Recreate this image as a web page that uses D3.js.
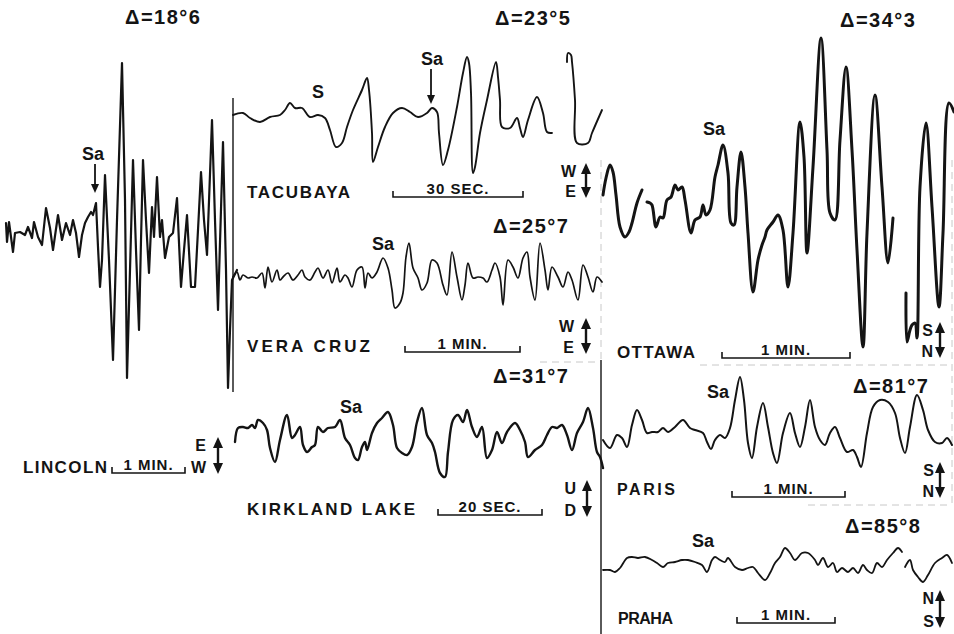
<!DOCTYPE html>
<html><head><meta charset="utf-8">
<script src="https://cdn.jsdelivr.net/npm/d3@7"></script>
<style>html,body{margin:0;padding:0;background:#fff;} svg{display:block;}</style>
</head><body>
<svg id="c" width="954" height="634"></svg>
<script>
// ---- DATA: [time offset, amplitude] pairs ----
const lincoln = [[0,9],[1,-10],[3,10],[7,-20],[9,-1],[14,0],[19,-3],[22,5],[26,-6],[28,10],[32,-5],[36,-13],[40,24],[44,4],[47,-18],[52,17],[56,-8],[60,9],[64,-3],[67,12],[70,-1],[73,-25],[76,-3],[79,9],[82,15],[85,20],[87,17],[90,29],[92,-15],[94,-55],[96,-28],[99,57],[103,-28],[107,-128],[111,12],[116,169],[119,32],[121,-146],[124,-38],[127,72],[130,-18],[133,-98],[135,-8],[137,72],[140,12],[143,-41],[146,25],[148,-5],[151,55],[154,-5],[156,12],[159,-26],[163,-5],[167,-1],[171,34],[175,-55],[178,-18],[181,17],[185,-55],[189,-55],[192,2],[195,60],[198,12],[201,-23],[206,112],[209,12],[212,-78],[217,90],[220,-38],[222,-156],[224,-98],[226,-48],[231,-38]];
const tacubaya1 = [[0,0],[10,2],[17,-3],[27,-7],[37,-2],[47,0],[52,5],[57,12],[62,7],[69,7],[77,-2],[85,0],[92,-3],[97,-15],[103,-32],[109,-28],[114,-12],[120,5],[129,25],[134,37],[136,25],[139,-18],[140,-47],[145,-32],[152,-12],[160,2],[169,7],[177,3],[185,-2],[194,2],[199,7],[204,3],[206,-18],[210,-50],[215,-35],[224,8],[230,42],[234,58],[236,52],[238,22],[240,-58],[242,-52],[247,-18],[254,15],[263,53],[265,38],[267,15],[269,-12],[277,-13],[284,-3],[287,-13],[290,-22],[295,-5],[304,18],[310,2],[314,-17],[319,-18]];
const tacubaya2 = [[334,53],[335,62],[338,60],[339,53],[342,15],[344,-28],[355,-28],[359,-18],[369,5]];
const veraCruz = [[0,0],[4,5],[7,-3],[10,2],[15,-1],[19,0],[24,-1],[29,4],[32,-11],[35,10],[39,-5],[44,7],[47,-3],[50,0],[55,4],[60,-3],[65,2],[69,7],[72,0],[77,-3],[82,5],[85,9],[90,-1],[95,7],[99,-6],[104,9],[107,-5],[112,2],[115,-1],[119,-10],[124,7],[129,10],[132,-11],[135,4],[139,-1],[144,5],[150,19],[155,9],[159,-13],[162,-31],[167,-26],[170,-16],[173,20],[176,34],[180,9],[185,-1],[189,-13],[194,-6],[199,17],[204,14],[210,-8],[214,-18],[219,25],[224,0],[229,-23],[232,-8],[235,14],[240,-1],[245,0],[250,-1],[254,-5],[259,7],[262,14],[267,0],[270,-28],[275,17],[280,10],[285,-1],[290,19],[294,25],[297,0],[302,-23],[307,34],[312,7],[315,-13],[319,10],[325,0],[330,-10],[335,5],[339,-3],[345,-23],[350,12],[355,0],[360,-15],[364,0],[369,-5]];
const kirkland = [[0,-5],[3,9],[8,10],[13,9],[17,12],[20,9],[23,17],[28,14],[32,7],[35,-11],[40,-25],[45,-3],[52,22],[57,-1],[60,2],[65,10],[68,-8],[72,-15],[77,-10],[80,-8],[83,10],[88,5],[93,9],[100,10],[105,17],[110,-1],[115,-8],[120,-21],[123,-23],[127,-10],[130,-5],[132,-13],[137,4],[142,14],[147,19],[153,25],[158,12],[162,-11],[167,-16],[172,-18],[177,-10],[182,15],[187,29],[192,2],[197,-6],[200,-15],[205,-36],[210,-40],[213,-15],[218,17],[223,22],[228,15],[232,27],[237,10],[242,0],[247,10],[252,-21],[257,-13],[262,5],[267,-6],[272,5],[280,14],[285,7],[290,-5],[293,-20],[300,-13],[307,-8],[312,2],[317,10],[322,9],[327,12],[332,2],[337,-13],[342,4],[348,15],[353,29],[358,9],[362,-15],[365,-20],[368,-31]];
const ottawa1 = [[0,15],[3,32],[7,45],[10,38],[13,15],[17,-17],[22,-27],[26,-22],[29,-13],[34,7],[39,20]];
const ottawa2 = [[44,8],[47,7],[49,5],[53,-17],[57,-7],[60,-8],[64,10],[68,13],[72,25],[75,20],[79,23],[82,10],[88,-23],[92,-10],[97,-7],[100,5],[103,-5],[107,0],[112,33],[115,45],[120,65],[125,37],[128,-13],[131,-15],[134,23],[138,58],[142,23],[145,-23],[150,-82],[155,-50],[159,-35],[162,-27],[164,-20],[170,-12],[175,-5],[180,-20],[185,-77],[190,-23],[197,88],[201,53],[204,-43],[210,43],[218,172],[224,60],[227,-3],[232,-10],[237,70],[243,143],[249,60],[254,-40],[260,-137],[264,-23],[272,115],[279,23],[285,-53],[290,-8]];
const ottawa3 = [[303,-83],[304,-132],[307,-120],[309,-115],[312,-113],[314,-128],[317,23],[323,87],[329,3],[336,-97],[340,-23],[346,107],[351,98]];
const paris = [[0,-5],[7,-13],[14,0],[19,-3],[24,-12],[29,10],[34,25],[39,15],[44,2],[49,3],[55,3],[60,7],[65,3],[72,8],[80,15],[87,7],[92,5],[100,2],[104,-7],[108,-14],[112,-5],[117,0],[122,-3],[127,7],[132,35],[137,58],[141,35],[145,-8],[149,-23],[154,8],[160,32],[165,8],[170,-18],[174,-28],[180,2],[187,22],[192,2],[197,-12],[202,8],[207,35],[212,8],[217,-5],[222,-10],[227,2],[232,8],[237,-3],[244,-17],[250,-15],[254,-22],[258,-32],[264,2],[270,28],[277,35],[285,33],[292,22],[297,-3],[302,-18],[307,8],[314,40],[320,25],[325,5],[332,-7],[339,-8],[344,-3],[349,-10]];
const praha1 = [[0,-5],[7,-5],[12,-7],[17,-3],[24,7],[29,8],[35,7],[42,8],[49,5],[54,2],[60,-2],[65,2],[72,3],[79,5],[85,5],[92,3],[99,0],[104,-7],[109,5],[112,8],[117,5],[122,3],[125,7],[132,-2],[139,-5],[145,-3],[150,-2],[155,-8],[162,-15],[167,-8],[172,2],[177,8],[182,17],[187,12],[192,5],[199,12],[205,12],[212,5],[215,0],[220,7],[225,-2],[230,2],[234,-7],[239,-3],[245,-7],[250,-3],[255,-8],[260,0],[264,-5],[269,-8],[274,2],[279,-2],[284,5],[290,12],[295,17],[299,13]];
const praha2 = [[302,-2],[307,5],[310,-5],[315,-12],[320,-17],[325,-10],[332,2],[339,7],[344,10],[349,2]];

const stations = ["LINCOLN","TACUBAYA","VERA CRUZ","KIRKLAND LAKE","OTTAWA","PARIS","PRAHA"];
const distances = ["18°6","23°5","25°7","31°7","34°3","81°7","85°8"];
const scaleLabels = ["1 MIN.","30 SEC.","1 MIN.","20 SEC.","1 MIN.","1 MIN.","1 MIN."];
const components = [["E","W"],["W","E"],["W","E"],["U","D"],["S","N"],["S","N"],["N","S"]];
const phaseLabels = ["Sa","Sa","Sa","Sa","Sa","Sa","Sa"];

// ---- LAYOUT ----
const panels = [
  {segs:[lincoln], x0:6, base:232, sw:2.2, curve:false,
   name:[23,473,84,17], bar:[112,185,473], dl:[125,24], comp:[218,437,474,206],
   sa:[82,160], saArrow:[95,164,193]},
  {segs:[tacubaya1,tacubaya2], x0:233, base:115, sw:1.9, curve:true,
   name:[247,198,103,17], bar:[393,523,197], dl:[495,25], comp:[586,163,198,576],
   sa:[421,65], saArrow:[431,69,104], s:[312,98]},
  {segs:[veraCruz], x0:233, base:277, sw:1.7, curve:true,
   name:[247,352,123,17], bar:[405,520,352], dl:[493,233], comp:[586,318,354,574],
   sa:[372,250]},
  {segs:[kirkland], x0:235, base:437, sw:2.4, curve:true,
   name:[247,515,168,17], bar:[438,542,515], dl:[493,383], comp:[587,480,517,576],
   sa:[340,413]},
  {segs:[ottawa1,ottawa2,ottawa3], x0:603, base:210, sw:3, curve:true,
   name:[617,358,78,17], bar:[722,850,358], dl:[840,27], comp:[940,322,358,933],
   sa:[703,135]},
  {segs:[paris], x0:603, base:435, sw:2, curve:true,
   name:[617,495,58,16], bar:[732,845,497], dl:[853,393], comp:[940,462,498,934],
   sa:[707,398]},
  {segs:[praha1,praha2], x0:603, base:565, sw:1.8, curve:true,
   name:[618,624,55,16], bar:[737,835,623], dl:[845,533], comp:[940,590,628,934],
   sa:[692,547]}
];

const svg = d3.select("#c");
const ink = "#141414";
const FONT = "'Liberation Sans', Arial, sans-serif";

// faint paste-up borders
const faint = svg.append("g").attr("stroke","#c8c8c8").attr("stroke-width",1).attr("stroke-dasharray","7,5").attr("fill","none");
[[540,362,600,362],[700,365,952,365],[808,505,950,505],[952,160,952,505],[601,160,601,360]].forEach(l=>{
  faint.append("line").attr("x1",l[0]).attr("y1",l[1]).attr("x2",l[2]).attr("y2",l[3]);
});
// solid panel edges
const edges = svg.append("g").attr("stroke",ink).attr("stroke-width",1.4);
edges.append("line").attr("x1",233).attr("y1",98).attr("x2",233).attr("y2",392);
edges.append("line").attr("x1",601).attr("y1",360).attr("x2",601).attr("y2",634);

panels.forEach((p,i)=>{
  const g = svg.append("g");
  const x = d3.scaleLinear().domain([0,400]).range([p.x0, p.x0+400]);
  const y = d3.scaleLinear().domain([-200,200]).range([p.base+200, p.base-200]);
  const line = d3.line().x(d=>x(d[0])).y(d=>y(d[1]))
    .curve(p.curve ? d3.curveCatmullRom.alpha(0.5) : d3.curveLinear);
  p.segs.forEach(s=>{
    g.append("path").attr("d",line(s)).attr("fill","none").attr("stroke",ink)
      .attr("stroke-width",p.sw).attr("stroke-linejoin","round").attr("stroke-linecap","round");
  });

  // station name
  g.append("text").attr("x",p.name[0]).attr("y",p.name[1]).attr("font-family",FONT)
    .attr("font-weight","bold").attr("font-size",p.name[3]).attr("fill",ink)
    .attr("textLength",p.name[2]).attr("lengthAdjust","spacing").text(stations[i]);

  // time scale bar
  const [bx1,bx2,by] = p.bar;
  g.append("path").attr("d",`M${bx1},${by-6}V${by}H${bx2}V${by-6}`).attr("fill","none")
    .attr("stroke",ink).attr("stroke-width",1.6);
  g.append("text").attr("x",(bx1+bx2)/2).attr("y",by-3).attr("text-anchor","middle")
    .attr("font-family",FONT).attr("font-weight","bold").attr("font-size",15).attr("fill",ink)
    .attr("letter-spacing",1).text(scaleLabels[i]);

  // epicentral distance
  g.append("text").attr("x",p.dl[0]).attr("y",p.dl[1]).attr("font-family",FONT)
    .attr("font-weight","bold").attr("font-size",20).attr("fill",ink)
    .attr("letter-spacing",1.5).text("Δ=" + distances[i]);

  // component arrow
  const [ax,ay1,ay2,lx] = p.comp;
  g.append("line").attr("x1",ax).attr("x2",ax).attr("y1",ay1+6).attr("y2",ay2-6)
    .attr("stroke",ink).attr("stroke-width",2.4);
  g.append("path").attr("d",`M${ax-5},${ay1+11}L${ax},${ay1}L${ax+5},${ay1+11}Z`).attr("fill",ink);
  g.append("path").attr("d",`M${ax-5},${ay2-11}L${ax},${ay2}L${ax+5},${ay2-11}Z`).attr("fill",ink);
  g.append("text").attr("x",lx).attr("y",ay1+14).attr("text-anchor","end").attr("font-family",FONT)
    .attr("font-weight","bold").attr("font-size",16).attr("fill",ink).text(components[i][0]);
  g.append("text").attr("x",lx).attr("y",ay2-1).attr("text-anchor","end").attr("font-family",FONT)
    .attr("font-weight","bold").attr("font-size",16).attr("fill",ink).text(components[i][1]);

  // phase labels
  g.append("text").attr("x",p.sa[0]).attr("y",p.sa[1]).attr("font-family",FONT)
    .attr("font-weight","bold").attr("font-size",18).attr("fill",ink).text(phaseLabels[i]);
  if (p.s) g.append("text").attr("x",p.s[0]).attr("y",p.s[1]).attr("font-family",FONT)
    .attr("font-weight","bold").attr("font-size",18).attr("fill",ink).text("S");
  if (p.saArrow) {
    const [sx,sy1,sy2] = p.saArrow;
    g.append("line").attr("x1",sx).attr("x2",sx).attr("y1",sy1).attr("y2",sy2-6)
      .attr("stroke",ink).attr("stroke-width",1.8);
    g.append("path").attr("d",`M${sx-4},${sy2-9}L${sx},${sy2}L${sx+4},${sy2-9}Z`).attr("fill",ink);
  }
});
</script>
</body></html>
